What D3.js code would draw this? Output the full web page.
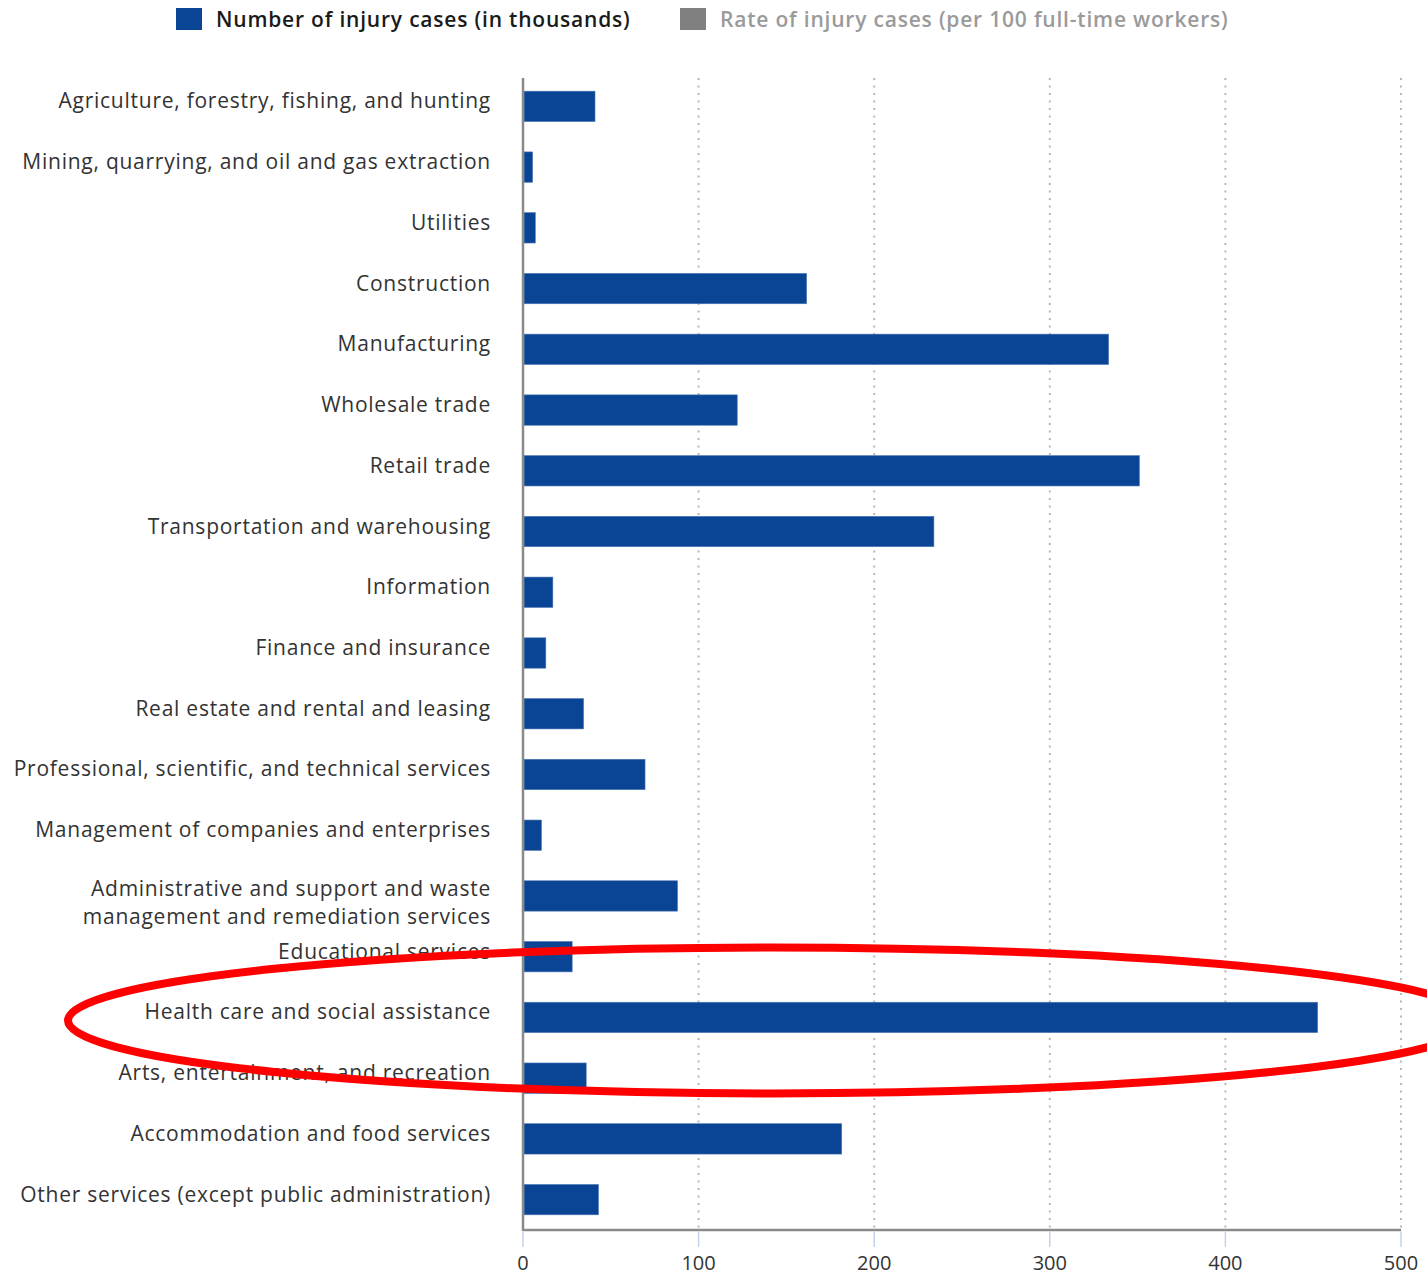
<!DOCTYPE html>
<html lang="en">
<head>
    <script src="https://d3js.org/d3.v7.min.js"></script>
    <title>Injury cases by industry</title>
    <style>
        body { margin: 0; background: #fff; }
        text { font-family: "Open Sans", sans-serif; }
        .cat-label { font-size: 21px; letter-spacing: 0.75px; fill: #333; }
        .tick-label { font-size: 20px; fill: #333; }
        .legend-text { font-size: 21px; letter-spacing: 0.8px; font-weight: 600; }
    </style>
</head>
<body>
    <svg id="chart" width="1427" height="1275"></svg>
    <script>
        const industries = [
            "Agriculture, forestry, fishing, and hunting",
            "Mining, quarrying, and oil and gas extraction",
            "Utilities",
            "Construction",
            "Manufacturing",
            "Wholesale trade",
            "Retail trade",
            "Transportation and warehousing",
            "Information",
            "Finance and insurance",
            "Real estate and rental and leasing",
            "Professional, scientific, and technical services",
            "Management of companies and enterprises",
            "Administrative and support and waste|management and remediation services",
            "Educational services",
            "Health care and social assistance",
            "Arts, entertainment, and recreation",
            "Accommodation and food services",
            "Other services (except public administration)"
        ];
        // number of injury cases, thousands
        const cases = [41, 5.5, 7, 161.5, 333.5, 122, 351, 234, 17, 13, 34.5, 69.5, 10.5, 88, 28, 452.5, 36, 181.5, 43];
        const xTicks = [0, 100, 200, 300, 400, 500];
        const legendItems = ["Number of injury cases (in thousands)", "Rate of injury cases (per 100 full-time workers)"];
        const highlighted = "Health care and social assistance";

        const svg = d3.select("#chart");
        const plotLeft = 523, plotRight = 1401, plotTop = 76, plotBottom = 1230;

        const x = d3.scaleLinear().domain([0, 500]).range([plotLeft, plotRight]);
        const y = d3.scaleBand()
            .domain(industries)
            .range([plotTop, plotBottom])
            .paddingInner(0.5)
            .paddingOuter(0.25);

        // dotted gridlines
        svg.append("g")
            .selectAll("line")
            .data(xTicks.slice(1))
            .enter().append("line")
            .attr("x1", d => x(d)).attr("x2", d => x(d))
            .attr("y1", plotTop + 2).attr("y2", plotBottom)
            .attr("stroke", "#b8b8b8")
            .attr("stroke-width", 2)
            .attr("stroke-dasharray", "2,5.5");

        // bars
        svg.append("g")
            .selectAll("rect")
            .data(industries)
            .enter().append("rect")
            .attr("x", x(0) + 1)
            .attr("y", d => y(d))
            .attr("width", (d, i) => x(cases[i]) - x(0) - 1)
            .attr("height", y.bandwidth())
            .attr("fill", "#0a4595")
            .attr("stroke", "#4d78b5")
            .attr("stroke-width", 0.6);

        // category labels
        const labels = svg.append("g")
            .selectAll("text")
            .data(industries)
            .enter().append("text")
            .attr("class", "cat-label")
            .attr("text-anchor", "end")
            .attr("x", 491)
            .attr("y", d => y(d) + y.bandwidth() / 2 + 2);
        labels.each(function (d) {
            const lines = d.split("|");
            const t = d3.select(this);
            lines.forEach((l, i) => {
                t.append("tspan").attr("x", 491).attr("dy", i === 0 ? 0 : 28).text(l);
            });
            if (lines.length > 1) t.attr("y", y(d) + y.bandwidth() / 2);
        });

        // axis lines
        svg.append("line")
            .attr("x1", plotLeft).attr("x2", plotLeft)
            .attr("y1", plotTop + 2).attr("y2", plotBottom + 1)
            .attr("stroke", "#8a8a8a").attr("stroke-width", 2.5);
        svg.append("line")
            .attr("x1", plotLeft).attr("x2", plotRight)
            .attr("y1", plotBottom).attr("y2", plotBottom)
            .attr("stroke", "#8a8a8a").attr("stroke-width", 2.5);

        // bottom ticks + labels
        const xAxis = svg.append("g");
        xAxis.selectAll("line")
            .data(xTicks)
            .enter().append("line")
            .attr("x1", d => x(d)).attr("x2", d => x(d))
            .attr("y1", plotBottom + 1.5).attr("y2", plotBottom + 17)
            .attr("stroke", "#c3d2ea").attr("stroke-width", 1.5);
        xAxis.selectAll("text")
            .data(xTicks)
            .enter().append("text")
            .attr("class", "tick-label")
            .attr("text-anchor", "middle")
            .attr("x", d => x(d))
            .attr("y", 1270)
            .text(d => d);

        // legend
        const legendColors = ["#0a4595", "#808080"];
        const legendTextColors = ["#1a1a1a", "#9a9a9a"];
        const legendX = [176, 680];
        const legend = svg.append("g");
        legendItems.forEach((name, i) => {
            legend.append("rect")
                .attr("x", legendX[i]).attr("y", 8)
                .attr("width", 26).attr("height", 22)
                .attr("fill", legendColors[i]);
            legend.append("text")
                .attr("class", "legend-text")
                .attr("x", legendX[i] + 40).attr("y", 27)
                .attr("fill", legendTextColors[i])
                .text(name);
        });

        // red highlight ellipse
        const hy = y(highlighted) + y.bandwidth() / 2;
        svg.append("ellipse")
            .attr("cx", 772).attr("cy", hy + 3)
            .attr("rx", 704).attr("ry", 73)
            .attr("fill", "none")
            .attr("stroke", "#ff0000")
            .attr("stroke-width", 8);
    </script>
</body>
</html>
